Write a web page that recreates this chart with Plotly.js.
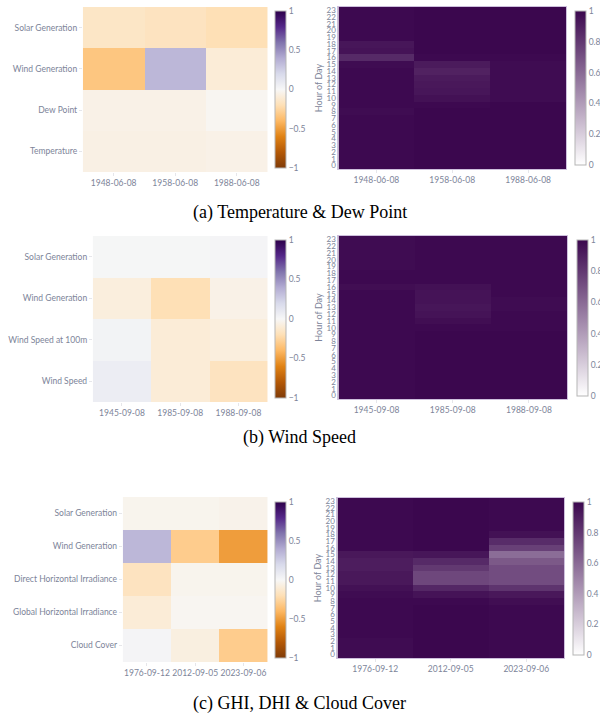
<!DOCTYPE html>
<html>
<head>
<meta charset="utf-8">
<script src="https://cdn.plot.ly/plotly-3.0.1.min.js"></script>
<style>html,body{margin:0;padding:0;background:#fff;}#chart{width:600px;height:717px;}</style>
</head>
<body>
<div id="chart"></div>
<script>
// ---------- DATA ----------
const hours = [0,1,2,3,4,5,6,7,8,9,10,11,12,13,14,15,16,17,18,19,20,21,22,23];

// (a) Temperature & Dew Point
const datesA = ['1948-06-08','1958-06-08','1988-06-08'];
const featuresA = ['Temperature','Dew Point','Wind Generation','Solar Generation'];
const corrA_temperature = [-0.06,-0.06,-0.05];
const corrA_dewPoint    = [-0.05,-0.05,-0.02];
const corrA_windGen     = [-0.33, 0.35,-0.10];
const corrA_solarGen    = [-0.15,-0.17,-0.20];
const hourA_1948 = [0.99,0.99,0.99,0.99,0.99,0.99,0.99,0.99,0.98,0.99,0.99,0.99,0.99,0.99,0.99,0.98,0.86,0.95,0.94,0.99,0.99,0.99,0.99,0.99];
const hourA_1958 = [1.00,1.00,1.00,1.00,1.00,1.00,1.00,1.00,1.00,0.99,0.96,0.94,0.93,0.92,0.89,0.92,0.99,1.00,1.00,1.00,1.00,1.00,1.00,1.00];
const hourA_1988 = [1.00,1.00,1.00,1.00,1.00,1.00,1.00,1.00,1.00,1.00,0.98,0.98,0.98,0.98,0.98,0.98,0.99,1.00,1.00,1.00,1.00,1.00,1.00,1.00];

// (b) Wind Speed
const datesB = ['1945-09-08','1985-09-08','1988-09-08'];
const featuresB = ['Wind Speed','Wind Speed at 100m','Wind Generation','Solar Generation'];
const corrB_windSpeed    = [ 0.07,-0.10,-0.17];
const corrB_windSpeed100 = [ 0.03,-0.10,-0.08];
const corrB_windGen      = [-0.08,-0.20,-0.05];
const corrB_solarGen     = [ 0.01, 0.01, 0.02];
const hourB_1945 = [0.99,0.99,0.99,0.99,0.99,0.99,0.99,0.99,0.99,0.99,0.99,0.99,0.99,0.99,0.99,0.99,0.97,0.99,0.99,0.98,0.98,0.98,0.98,0.98];
const hourB_1985 = [1.00,1.00,1.00,1.00,1.00,1.00,1.00,1.00,1.00,1.00,0.99,0.97,0.95,0.94,0.95,0.95,0.96,0.99,0.99,0.99,0.99,0.99,0.99,0.99];
const hourB_1988 = [1.00,1.00,1.00,1.00,1.00,1.00,1.00,1.00,1.00,1.00,0.99,0.99,0.99,0.98,0.98,0.99,0.99,0.99,0.99,0.99,0.99,0.99,0.99,0.99];

// (c) GHI, DHI & Cloud Cover
const datesC = ['1976-09-12','2012-09-05','2023-09-06'];
const featuresC = ['Cloud Cover','Global Horizontal Irradiance','Direct Horizontal Irradiance','Wind Generation','Solar Generation'];
const corrC_cloud    = [ 0.02,-0.07,-0.30];
const corrC_ghi      = [-0.10,-0.02,-0.02];
const corrC_dhi      = [-0.17,-0.03,-0.03];
const corrC_windGen  = [ 0.35,-0.30,-0.50];
const corrC_solarGen = [-0.03,-0.03,-0.04];
const hourC_1976 = [0.98,0.98,0.98,0.99,0.99,0.99,0.99,0.99,0.99,0.98,0.96,0.93,0.93,0.91,0.91,0.93,0.99,0.99,0.99,0.99,0.99,0.99,0.99,0.99];
const hourC_2012 = [1.00,1.00,1.00,1.00,1.00,1.00,1.00,1.00,0.99,0.95,0.87,0.74,0.74,0.80,0.86,0.94,1.00,1.00,1.00,1.00,1.00,1.00,1.00,1.00];
const hourC_2023 = [0.99,0.99,0.99,0.99,0.99,0.99,0.99,0.99,0.97,0.93,0.82,0.72,0.72,0.72,0.67,0.59,0.77,0.85,0.96,0.99,0.99,0.99,0.99,0.99];

// ---------- STYLE ----------
const W = 600, H = 717;
const FONT = 'Lato, "Open Sans", sans-serif';
const TXT = '#7d8499';
const divergent = [
  [0.0,'#7f3b08'],[0.1,'#b35806'],[0.2,'#e08214'],[0.3,'#fdb863'],[0.4,'#fee0b6'],
  [0.5,'#f7f7f7'],[0.6,'#d8daeb'],[0.7,'#b2abd2'],[0.8,'#8073ac'],[0.9,'#542788'],[1.0,'#2d004b']];
const sequential = [[0,'rgb(255,255,255)'],[1,'rgb(59,7,78)']];

function px2x(p){ return p / W; }
function px2y(p){ return 1 - p / H; }
function toCols(cols){ // build z[hour][col]
  return hours.map((h,i)=>cols.map(c=>c[i]));
}
function cb(x0, y0, y1, isDiv){
  return {
    x: px2x(x0), xanchor:'left', xpad:0, ypad:0,
    y: px2y((y0+y1)/2), yanchor:'middle',
    len: (y1-y0)/H, lenmode:'fraction',
    thickness: 11, thicknessmode:'pixels',
    outlinewidth: 1, outlinecolor: '#b5b5b5',
    tickfont: {family: FONT, size: 8.5, color: TXT},
    ticks: '',
    tickmode: 'array',
    tickvals: isDiv ? [-1,-0.5,0,0.5,1] : [0,0.2,0.4,0.6,0.8,1],
    ticktext: isDiv ? ['\u22121','\u22120.5','0','0.5','1'] : ['0','0.2','0.4','0.6','0.8','1']
  };
}

const traces = [
  {type:'heatmap', x:datesA, y:featuresA, z:[corrA_temperature,corrA_dewPoint,corrA_windGen,corrA_solarGen],
   zmin:-1, zmax:1, colorscale:divergent, xaxis:'x', yaxis:'y', colorbar: cb(275,11,168,true)},
  {type:'heatmap', x:datesA, y:hours, z:toCols([hourA_1948,hourA_1958,hourA_1988]),
   zmin:0, zmax:1, colorscale:sequential, xaxis:'x2', yaxis:'y2', colorbar: cb(575,11,165,false)},
  {type:'heatmap', x:datesB, y:featuresB, z:[corrB_windSpeed,corrB_windSpeed100,corrB_windGen,corrB_solarGen],
   zmin:-1, zmax:1, colorscale:divergent, xaxis:'x3', yaxis:'y3', colorbar: cb(275,240,398,true)},
  {type:'heatmap', x:datesB, y:hours, z:toCols([hourB_1945,hourB_1985,hourB_1988]),
   zmin:0, zmax:1, colorscale:sequential, xaxis:'x4', yaxis:'y4', colorbar: cb(577,240,396,false)},
  {type:'heatmap', x:datesC, y:featuresC, z:[corrC_cloud,corrC_ghi,corrC_dhi,corrC_windGen,corrC_solarGen],
   zmin:-1, zmax:1, colorscale:divergent, xaxis:'x5', yaxis:'y5', colorbar: cb(275,502,658,true)},
  {type:'heatmap', x:datesC, y:hours, z:toCols([hourC_1976,hourC_2012,hourC_2023]),
   zmin:0, zmax:1, colorscale:sequential, xaxis:'x6', yaxis:'y6', colorbar: cb(573,502,655,false)}
];

function xax(x0,x1,anchor,border){
  return {domain:[px2x(x0),px2x(x1)], anchor:anchor, type:'category', automargin:false,
    showgrid:false, zeroline:false, ticks:'outside', ticklen:3, tickcolor:'#e6e6ea',
    tickfont:{family:FONT,size:8.5,color:TXT},
    showline:border, linecolor:'#cdbfdc', linewidth:1, mirror:border};
}
function yaxCat(y0,y1,anchor){
  return {domain:[px2y(y1),px2y(y0)], anchor:anchor, type:'category', automargin:false,
    showgrid:false, zeroline:false, ticks:'outside', ticklen:3, tickcolor:'#e6e6ea',
    tickfont:{family:FONT,size:8.5,color:TXT}};
}
function yaxHour(y0,y1,anchor){
  return {domain:[px2y(y1),px2y(y0)], anchor:anchor, automargin:false,
    range:[-0.5,23.5], tickmode:'linear', tick0:0, dtick:1,
    showgrid:false, zeroline:false, ticks:'', ticklen:0,
    tickfont:{family:FONT,size:8,color:TXT},
    title:{text:'Hour of Day', font:{family:FONT,size:9,color:TXT}, standoff:2},
    showline:true, linecolor:'#cdbfdc', linewidth:1, mirror:true};
}

const captionFont = {family:'"Liberation Serif", "Times New Roman", serif', size:18, color:'#000'};
const layout = {
  width: W, height: H,
  margin: {l:0, r:0, t:0, b:0},
  paper_bgcolor:'#fff', plot_bgcolor:'#fff',
  showlegend:false,
  font:{family:FONT, color:TXT},
  xaxis:  xax(83,268,'y',false),
  yaxis:  yaxCat(7,172,'x'),
  xaxis2: xax(339,567,'y2',true),
  yaxis2: yaxHour(7,169,'x2'),
  xaxis3: xax(93,268,'y3',false),
  yaxis3: yaxCat(236,402,'x3'),
  xaxis4: xax(339,568,'y4',true),
  yaxis4: yaxHour(236,399,'x4'),
  xaxis5: xax(123,268,'y5',false),
  yaxis5: yaxCat(497,662,'x5'),
  xaxis6: xax(338,565,'y6',true),
  yaxis6: yaxHour(498,658,'x6'),
  annotations: [
    {text:'(a) Temperature &amp; Dew Point', xref:'paper', yref:'paper', x:0.5, y:px2y(213), xanchor:'center', yanchor:'middle', showarrow:false, font:captionFont},
    {text:'(b) Wind Speed', xref:'paper', yref:'paper', x:0.5, y:px2y(437), xanchor:'center', yanchor:'middle', showarrow:false, font:captionFont},
    {text:'(c) GHI, DHI &amp; Cloud Cover', xref:'paper', yref:'paper', x:0.5, y:px2y(703), xanchor:'center', yanchor:'middle', showarrow:false, font:captionFont}
  ]
};

Plotly.newPlot('chart', traces, layout, {displayModeBar:false, staticPlot:true});
</script>
</body>
</html>
